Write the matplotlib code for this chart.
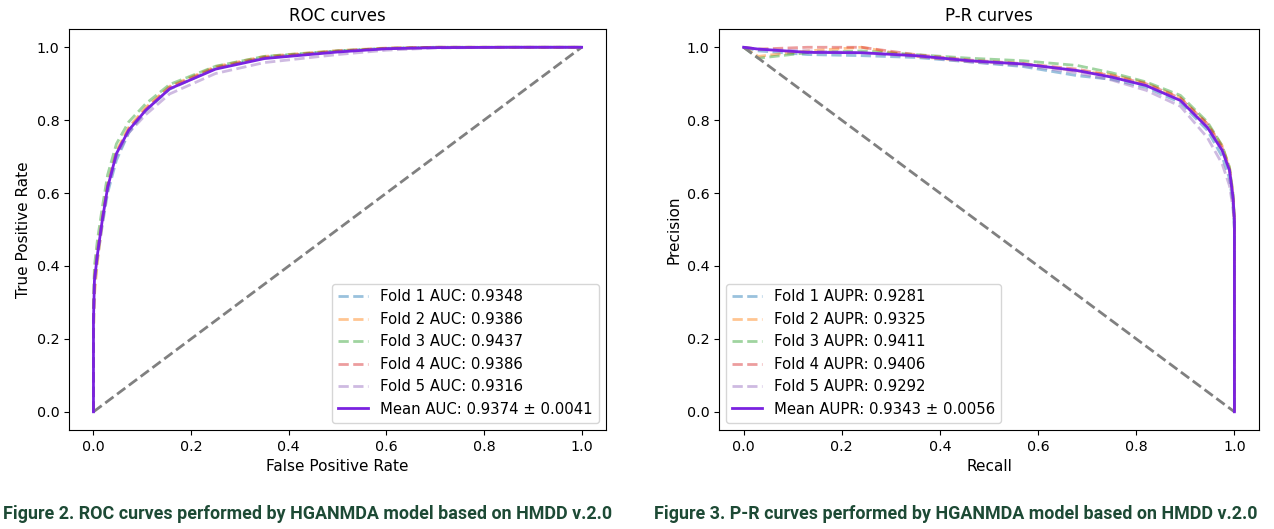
import matplotlib
matplotlib.use("Agg")
import matplotlib.pyplot as plt

plt.rcParams["font.family"] = ["DejaVu Sans"]

# ROC data
roc_fpr = [0.0, 0.0, 0.002, 0.008, 0.018, 0.029, 0.047, 0.072, 0.107, 0.156,
           0.25, 0.35, 0.5, 0.6, 0.7, 0.85, 1.0]
roc_fold1 = [0, 0.22, 0.34, 0.42, 0.51, 0.60, 0.69, 0.765, 0.825, 0.885,
             0.942, 0.972, 0.99, 0.997, 1.0, 1.0, 1.0]
roc_fold2 = [0, 0.20, 0.32, 0.41, 0.52, 0.62, 0.715, 0.78, 0.835, 0.893,
             0.947, 0.975, 0.991, 0.998, 1.0, 1.0, 1.0]
roc_fold3 = [0, 0.30, 0.40, 0.47, 0.56, 0.65, 0.735, 0.795, 0.845, 0.898,
             0.948, 0.975, 0.99, 0.997, 1.0, 1.0, 1.0]
roc_fold4 = [0, 0.26, 0.37, 0.44, 0.53, 0.62, 0.71, 0.775, 0.83, 0.89,
             0.944, 0.972, 0.989, 0.997, 1.0, 1.0, 1.0]
roc_fold5 = [0, 0.25, 0.36, 0.43, 0.52, 0.61, 0.70, 0.765, 0.815, 0.872,
             0.928, 0.958, 0.98, 0.992, 0.998, 1.0, 1.0]
roc_mean = [0, 0.25, 0.36, 0.43, 0.525, 0.615, 0.708, 0.772, 0.827, 0.886,
            0.94, 0.969, 0.987, 0.996, 0.999, 1.0, 1.0]
roc_auc = [0.9348, 0.9386, 0.9437, 0.9386, 0.9316]
roc_mean_auc, roc_std_auc = 0.9374, 0.0041

# P-R data
pr_recall = [0.0, 0.03, 0.13, 0.24, 0.35, 0.46, 0.57, 0.68, 0.75, 0.82,
             0.89, 0.945, 0.975, 0.99, 0.997, 1.0, 1.0]
pr_fold1 = [1.0, 0.99, 0.98, 0.977, 0.972, 0.96, 0.947, 0.922, 0.912, 0.89,
            0.848, 0.772, 0.70, 0.64, 0.57, 0.50, 0.0]
pr_fold2 = [1.0, 0.975, 0.99, 1.0, 0.975, 0.962, 0.955, 0.935, 0.925, 0.902,
            0.862, 0.79, 0.73, 0.67, 0.60, 0.53, 0.0]
pr_fold3 = [1.0, 0.97, 0.985, 0.99, 0.98, 0.97, 0.963, 0.95, 0.93, 0.905,
            0.868, 0.795, 0.73, 0.67, 0.60, 0.53, 0.0]
pr_fold4 = [1.0, 0.995, 1.0, 1.0, 0.98, 0.965, 0.955, 0.94, 0.922, 0.90,
            0.86, 0.79, 0.725, 0.665, 0.59, 0.52, 0.0]
pr_fold5 = [1.0, 0.995, 0.99, 0.985, 0.975, 0.96, 0.95, 0.93, 0.91, 0.882,
            0.838, 0.752, 0.68, 0.62, 0.56, 0.50, 0.0]
pr_mean = [1.0, 0.995, 0.986, 0.985, 0.977, 0.963, 0.954, 0.936, 0.918, 0.895,
           0.854, 0.78, 0.717, 0.662, 0.59, 0.526, 0.0]
pr_aupr = [0.9281, 0.9325, 0.9411, 0.9406, 0.9292]
pr_mean_aupr, pr_std_aupr = 0.9343, 0.0056

fold_colors = ["tab:blue", "tab:orange", "tab:green", "tab:red", "tab:purple"]
mean_color = "#7a22e0"
caption_color = "#1d4a35"

fig = plt.figure(figsize=(12.74, 5.29), dpi=100)
ax1 = fig.add_axes([0.0542, 0.1871, 0.4215, 0.758])
ax2 = fig.add_axes([0.5644, 0.1871, 0.4238, 0.758])

roc_folds = [roc_fold1, roc_fold2, roc_fold3, roc_fold4, roc_fold5]
for i, tpr in enumerate(roc_folds):
    ax1.plot(roc_fpr, tpr, "--", color=fold_colors[i], alpha=0.45, lw=2,
             label=f"Fold {i + 1} AUC: {roc_auc[i]:.4f}")
ax1.plot([0, 1], [0, 1], "--", color="gray", lw=2)
ax1.plot(roc_fpr, roc_mean, color=mean_color, lw=2,
         label=f"Mean AUC: {roc_mean_auc:.4f} ± {roc_std_auc:.4f}")
ax1.set_title("ROC curves", fontsize=12)
ax1.set_xlabel("False Positive Rate", fontsize=11)
ax1.set_ylabel("True Positive Rate", fontsize=11)
ax1.legend(loc="lower right", fontsize=10.7)

pr_folds = [pr_fold1, pr_fold2, pr_fold3, pr_fold4, pr_fold5]
for i, prec in enumerate(pr_folds):
    ax2.plot(pr_recall, prec, "--", color=fold_colors[i], alpha=0.45, lw=2,
             label=f"Fold {i + 1} AUPR: {pr_aupr[i]:.4f}")
ax2.plot([0, 1], [1, 0], "--", color="gray", lw=2)
ax2.plot(pr_recall, pr_mean, color=mean_color, lw=2,
         label=f"Mean AUPR: {pr_mean_aupr:.4f} ± {pr_std_aupr:.4f}")
ax2.set_title("P-R curves", fontsize=12)
ax2.set_xlabel("Recall", fontsize=11)
ax2.set_ylabel("Precision", fontsize=11)
ax2.legend(loc="lower left", fontsize=10.7)

for ax in (ax1, ax2):
    ax.set_xticks([0.0, 0.2, 0.4, 0.6, 0.8, 1.0])
    ax.set_yticks([0.0, 0.2, 0.4, 0.6, 0.8, 1.0])
    ax.tick_params(labelsize=10.3)

fig.text(0.0025, 0.018, "Figure 2. ROC curves performed by HGANMDA model based on HMDD v.2.0",
         family="Roboto", weight="bold", fontsize=12.9, color=caption_color)
fig.text(0.5135, 0.018, "Figure 3. P-R curves performed by HGANMDA model based on HMDD v.2.0",
         family="Roboto", weight="bold", fontsize=12.9, color=caption_color)

fig.savefig("out.png", dpi=100)
